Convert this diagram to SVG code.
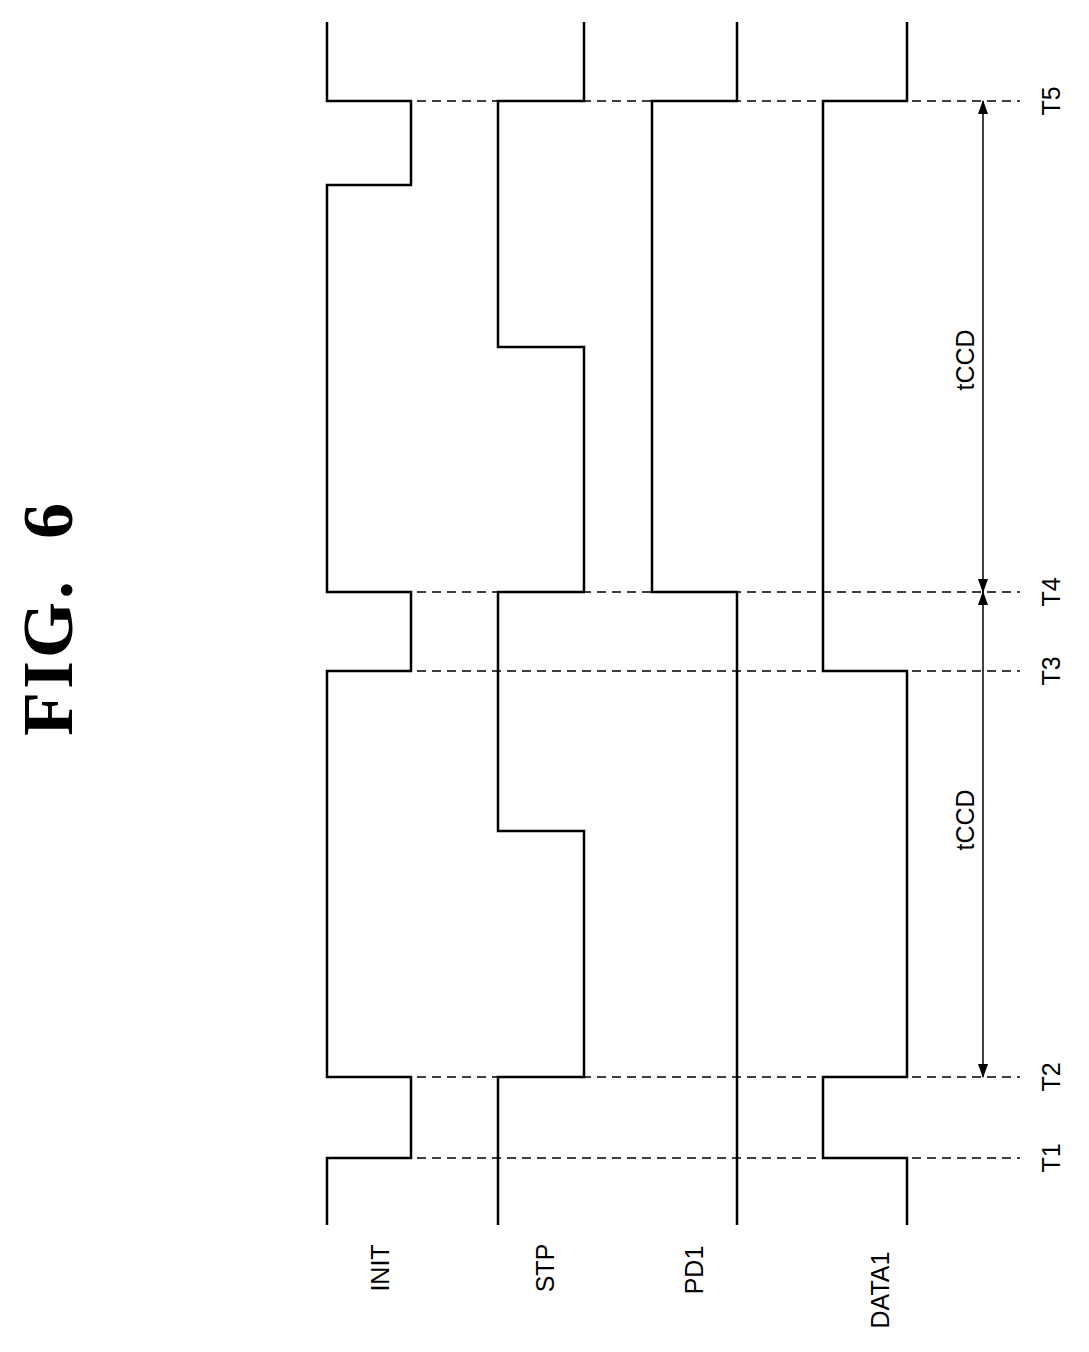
<svg xmlns="http://www.w3.org/2000/svg" width="1089" height="1352" viewBox="0 0 1089 1352">
<defs>
<style>
.w{fill:none;stroke:#000;stroke-width:2.5}
.d{fill:none;stroke:#000;stroke-width:1.5;stroke-dasharray:9 6}
.a{fill:none;stroke:#000;stroke-width:1.5}
.t{font-family:"Liberation Sans",Arial,sans-serif;font-size:25px;text-anchor:middle}
</style>
<marker id="ah" markerWidth="14" markerHeight="10" refX="13" refY="5" orient="auto-start-reverse" markerUnits="userSpaceOnUse"><path d="M0,0 L14,5 L0,10 Z" fill="#000"/></marker>
</defs>
<rect width="1089" height="1352" fill="#fff"/>
<text transform="translate(72,618) rotate(-90)" style="font-family:'Liberation Serif',serif;font-size:72px;font-weight:bold;text-anchor:middle;word-spacing:18px;letter-spacing:3px">FIG. 6</text>
<g id="connectors">
<path class="d" d="M327,1158H1020M327,1077H1020M327,671H1020M327,592H1020M327,101H1020"/>
<path class="a" d="M983,1077V592" marker-start="url(#ah)" marker-end="url(#ah)"/>
<path class="a" d="M983,592V101" marker-start="url(#ah)" marker-end="url(#ah)"/>
</g>
<g id="INIT"><path class="w" d="M327,1225V1158H411V1077H327V671H411V592H327V185H411V101H327V22"/><text class="t" transform="translate(389,1268) rotate(-90)">INIT</text></g>
<g id="STP"><path class="w" d="M498,1225V1077H584V831H498V592H584V347H498V101H584V22"/><text class="t" transform="translate(554,1268) rotate(-90)">STP</text></g>
<g id="PD1"><path class="w" d="M737,1225V592H652V101H737V22"/><text class="t" transform="translate(703,1270) rotate(-90)">PD1</text></g>
<g id="DATA1"><path class="w" d="M907,1225V1158H823V1077H907V671H823V101H907V22"/><text class="t" transform="translate(889,1290) rotate(-90)">DATA1</text></g>
<g id="labels">
<text class="t" transform="translate(974,820) rotate(-90)">tCCD</text>
<text class="t" transform="translate(974,360) rotate(-90)">tCCD</text>
<text class="t" transform="translate(1060,1158) rotate(-90)">T1</text>
<text class="t" transform="translate(1060,1077) rotate(-90)">T2</text>
<text class="t" transform="translate(1060,671) rotate(-90)">T3</text>
<text class="t" transform="translate(1060,592) rotate(-90)">T4</text>
<text class="t" transform="translate(1060,101) rotate(-90)">T5</text>
</g>
</svg>
